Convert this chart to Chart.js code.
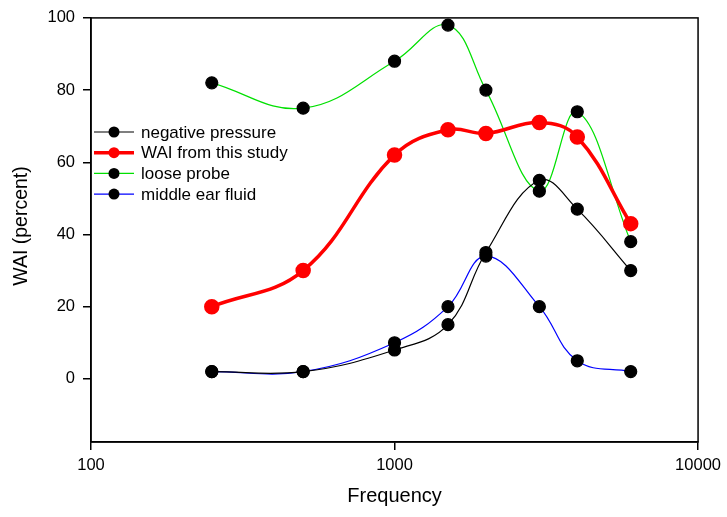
<!DOCTYPE html>
<html>
<head>
<meta charset="utf-8">
<script src="https://cdn.jsdelivr.net/npm/chart.js@4"></script>
<style>
  html, body { margin: 0; padding: 0; background: #fff; }
  #wrap { width: 727px; height: 517px; }
</style>
</head>
<body>
<div id="wrap"><canvas id="waiChart" width="727" height="517"></canvas></div>
<script>
// datos
const frecuencias = [250, 500, 1000, 1500, 2000, 3000, 4000, 6000];
const presionNegativa = [2, 2, 8, 15, 35, 55, 47, 30];
const waiEstudio = [20, 30, 62, 69, 68, 71, 67, 43];
const sondaSuelta = [82, 75, 88, 98, 80, 52, 74, 38];
const liquidoOido = [2, 2, 10, 20, 34, 20, 5, 2];
const ticksX = [100, 1000, 10000];
const ticksY = [0, 20, 40, 60, 80, 100];

const fuente = '"Liberation Sans", Arial, sans-serif';
const pares = vals => frecuencias.map((f, i) => ({ x: f, y: vals[i] }));

function serie(label, vals, color, ancho, colorPunto) {
  return {
    label: label,
    data: pares(vals),
    borderColor: color,
    borderWidth: ancho,
    backgroundColor: colorPunto,
    pointBackgroundColor: colorPunto,
    pointBorderColor: colorPunto,
    pointRadius: 6,
    pointHoverRadius: 6,
    tension: 0.4,
    fill: false,
  };
}

const datasets = [
  serie('negative pressure', presionNegativa, '#000000', 1.2, '#000000'),
  serie('WAI from this study', waiEstudio, '#ff0000', 3.5, '#ff0000'),
  serie('loose probe', sondaSuelta, '#00e000', 1.2, '#000000'),
  serie('middle ear fluid', liquidoOido, '#0000ff', 1.2, '#000000'),
];

// marco, titulo del eje y y leyenda dentro del area
const marcoLeyenda = {
  id: 'marcoLeyenda',
  afterDatasetsDraw(chart) {
    const { ctx, chartArea: a } = chart;
    ctx.save();
    ctx.strokeStyle = '#000';
    ctx.lineWidth = 1.5;
    ctx.strokeRect(a.left, a.top, a.right - a.left, a.bottom - a.top);

    // titulo eje y
    ctx.save();
    ctx.translate(22, 226);
    ctx.rotate(-Math.PI / 2);
    ctx.font = '19.5px ' + fuente;
    ctx.fillStyle = '#000';
    ctx.textAlign = 'center';
    ctx.textBaseline = 'middle';
    ctx.fillText('WAI (percent)', 0, 0);
    ctx.restore();

    ctx.font = '17px ' + fuente;
    ctx.textBaseline = 'middle';
    ctx.textAlign = 'left';
    chart.data.datasets.forEach((ds, i) => {
      const y = 132 + i * 20.7;
      const x0 = a.left + 3;
      ctx.strokeStyle = ds.borderColor;
      ctx.lineWidth = ds.borderWidth;
      ctx.beginPath();
      ctx.moveTo(x0, y);
      ctx.lineTo(x0 + 40, y);
      ctx.stroke();
      ctx.fillStyle = ds.pointBackgroundColor;
      ctx.beginPath();
      ctx.arc(x0 + 20, y, 5.5, 0, Math.PI * 2);
      ctx.fill();
      ctx.fillStyle = '#000';
      ctx.fillText(ds.label, x0 + 47, y + 1);
    });
    ctx.restore();
  },
};

const ctx = document.getElementById('waiChart').getContext('2d');
new Chart(ctx, {
  type: 'line',
  data: { datasets: datasets },
  options: {
    responsive: false,
    animation: false,
    layout: { padding: { top: 17, right: 28, left: 0, bottom: 0 } },
    plugins: {
      legend: { display: false },
      tooltip: { enabled: false },
    },
    scales: {
      x: {
        type: 'logarithmic',
        min: 100,
        max: 10000,
        afterBuildTicks: scale => { scale.ticks = ticksX.map(v => ({ value: v })); },
        afterFit: scale => { scale.height = 75; },
        ticks: {
          color: '#000',
          font: { size: 16.5, family: fuente },
          padding: 6,
          maxRotation: 0,
          callback: v => String(v),
        },
        grid: { drawOnChartArea: false, drawTicks: true, tickLength: 8, color: '#000', lineWidth: 1.5 },
        border: { display: true, color: '#000', width: 1.5 },
        title: {
          display: true,
          text: 'Frequency',
          color: '#000',
          font: { size: 20, family: fuente },
          padding: { top: 4, bottom: 9 },
        },
      },
      y: {
        min: -17.5,
        max: 100,
        afterBuildTicks: scale => { scale.ticks = ticksY.map(v => ({ value: v })); },
        afterFit: scale => { scale.width = 91; },
        ticks: {
          color: '#000',
          font: { size: 16.5, family: fuente },
          padding: 8,
        },
        grid: { drawOnChartArea: false, drawTicks: true, tickLength: 8, color: '#000', lineWidth: 1.5 },
        border: { display: true, color: '#000', width: 1.5 },
        title: { display: false },
      },
    },
  },
  plugins: [marcoLeyenda],
});
</script>
</body>
</html>
